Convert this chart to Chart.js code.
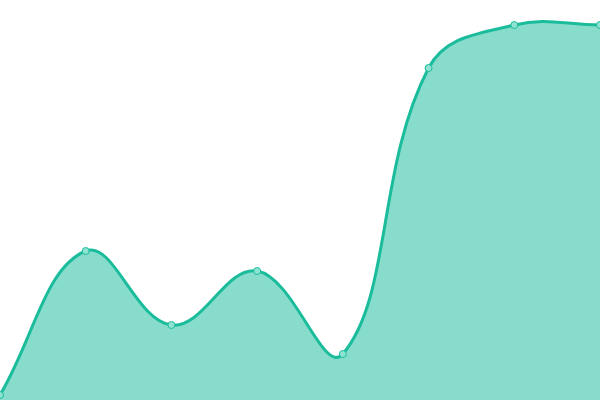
<!DOCTYPE html>
<html lang="en">
<head>
<meta charset="utf-8"/>
<title>Area chart</title>
<script src="https://cdn.jsdelivr.net/npm/chart.js@4.4.3/dist/chart.umd.min.js"></script>
<style>
  * { box-sizing: border-box; }
  html, body { margin: 0; padding: 0; background: #fff; }
  .wrap { width: 600px; height: 400px; position: relative; }
</style>
</head>
<body>
<div class="wrap"><canvas id="chart"></canvas></div>
<script>
// values (pixel height from the bottom, scale 0..400)
const labels = ['1', '2', '3', '4', '5', '6', '7', '8'];
const values = [5, 149, 75, 129, 46, 332, 375, 375];

const LINE = '#1abc9c';
const FILL = 'rgba(26,188,156,0.52)';

new Chart(document.getElementById('chart'), {
  type: 'line',
  data: {
    labels,
    datasets: [{
      data: values,
      borderColor: LINE,
      backgroundColor: FILL,
      borderWidth: 3,
      fill: true,
      tension: 0.4,
      pointRadius: 3.5,
      pointBorderWidth: 1,
      pointBackgroundColor: '#8fe3d2',
      pointBorderColor: LINE
    }]
  },
  options: {
    responsive: true,
    maintainAspectRatio: false,
    animation: false,
    layout: { padding: 0, autoPadding: false },
    plugins: { legend: { display: false }, tooltip: { enabled: false } },
    scales: {
      x: { display: false, offset: false },
      y: { display: false, min: 0, max: 400 }
    }
  }
});
</script>
</body>
</html>
